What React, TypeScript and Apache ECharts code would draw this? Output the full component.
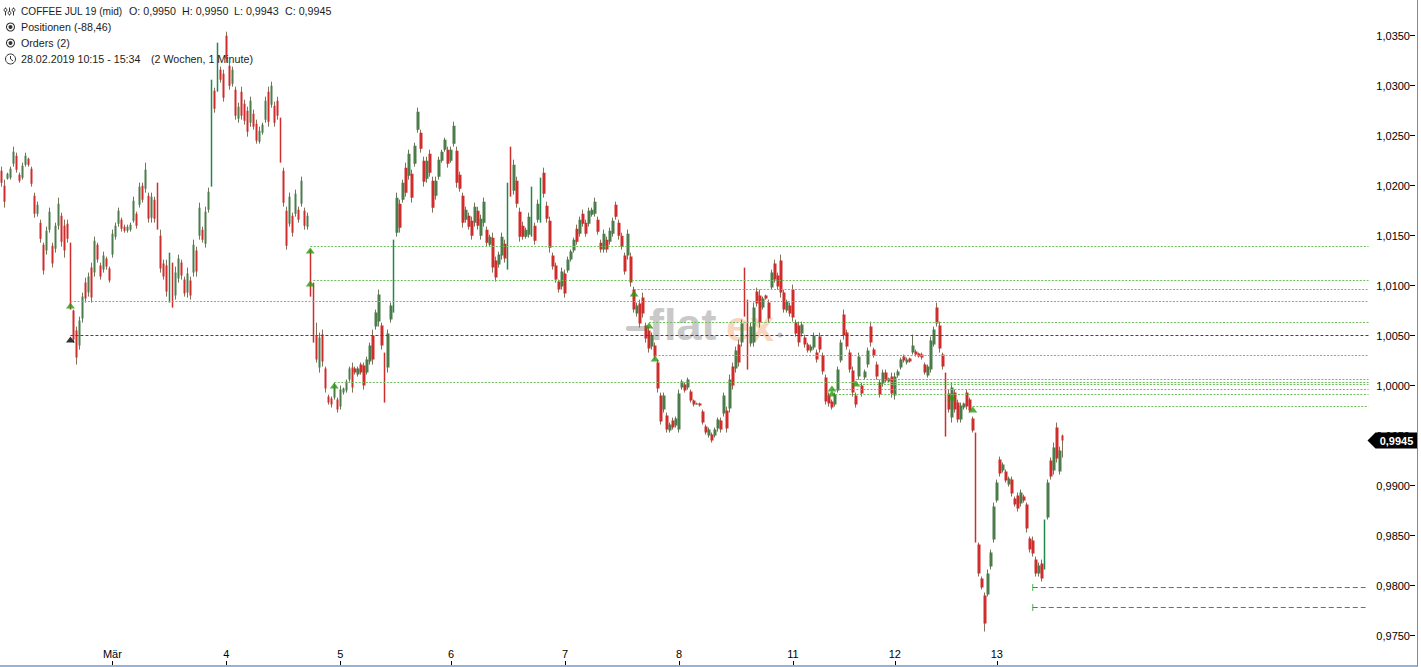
import { useEffect, useRef } from 'react';
import * as echarts from 'echarts';

// prices are kept in 1/10000, each candle is [open, close, low, high]
const PIPS = 10000;

const candlesFeb28 = [
    [10215,10203,10199,10219],[10200,10184,10178,10206],[10207,10212,10206,10213],[10208,10217,10206,10219],
    [10222,10234,10219,10239],[10230,10216,10213,10233],[10211,10205,10203,10213],[10208,10220,10206,10223],
    [10221,10230,10219,10233],[10227,10221,10219,10228],[10217,10202,10199,10219],[10190,10172,10168,10193],
    [10172,10181,10169,10184],[10163,10147,10143,10166],[10141,10115,10111,10143],[10135,10155,10131,10159],
    [10156,10174,10153,10178],[10140,10122,10118,10143],[10137,10160,10133,10163],[10160,10182,10156,10188],
    [10170,10144,10139,10173],[10160,10135,10128,10166],[10162,10147,10143,10166],[10135,10079,10076,10143],
    [10075,10046,10043,10076],[10055,10028,10021,10059],[10040,10065,10036,10069],[10067,10089,10063,10093],
    [10103,10087,10083,10108],[10093,10109,10089,10113],[10118,10088,10083,10123],[10113,10145,10109,10149],
    [10141,10126,10123,10143],[10120,10109,10106,10123],[10116,10130,10113,10134],[10127,10119,10116,10129],
    [10117,10105,10103,10119],
];
const candlesMar1 = [
    [10131,10152,10128,10156],[10149,10160,10146,10163],[10162,10175,10159,10178],[10166,10157,10154,10168],
    [10159,10155,10153,10161],[10155,10159,10153,10161],[10156,10161,10154,10163],[10165,10185,10163,10189],
    [10172,10160,10157,10174],[10181,10199,10178,10203],[10200,10186,10183,10203],[10197,10216,10193,10223],
    [10190,10167,10163,10193],[10168,10189,10163,10193],[10186,10167,10163,10189],[10198,10161,10156,10203],
    [10150,10117,10113,10156],[10122,10109,10106,10126],[10120,10094,10089,10126],[10098,10125,10083,10133],
    [10118,10084,10078,10123],[10090,10113,10086,10119],[10107,10127,10103,10131],[10123,10110,10106,10126],
    [10106,10092,10089,10109],[10093,10112,10088,10118],[10105,10090,10086,10109],[10113,10141,10109,10146],
    [10135,10114,10109,10139],[10150,10178,10146,10183],[10156,10146,10143,10159],[10142,10174,10138,10179],
    [10176,10194,10173,10198],[10200,10304,10199,10306],[10295,10277,10273,10298],[10297,10338,10294,10343],
    [10316,10306,10303,10319],[10312,10288,10284,10316],
];
const candlesMar4 = [
    [10350,10327,10323,10354],[10320,10300,10296,10323],[10302,10316,10299,10319],[10296,10270,10266,10299],
    [10267,10279,10263,10283],[10294,10270,10266,10299],[10282,10265,10261,10286],[10275,10254,10249,10279],
    [10263,10285,10259,10289],[10272,10259,10256,10276],[10262,10245,10242,10266],[10244,10255,10242,10259],
    [10253,10261,10251,10263],[10266,10285,10263,10289],[10294,10264,10259,10299],[10281,10300,10278,10304],
    [10280,10263,10259,10284],[10285,10270,10266,10289],[10266,10226,10223,10268],[10215,10183,10179,10218],
    [10175,10140,10136,10179],[10162,10189,10159,10193],[10170,10153,10149,10173],[10172,10192,10169,10196],
    [10176,10166,10163,10179],[10182,10205,10179,10209],[10175,10160,10156,10178],[10159,10170,10156,10173],
    [10134,10093,10089,10136],[10100,10050,10043,10103],[10050,10026,10023,10063],[10018,10048,10013,10053],
    [10051,10024,10019,10056],[10017,9997,9993,10019],[9989,9983,9981,9991],[9987,9981,9978,9989],
    [9988,10000,9986,10003],[9986,9976,9973,9988],
];
const candlesMar5 = [
    [9979,9996,9976,10000],[9993,9997,9991,9998],[9995,10004,9993,10006],[10006,10017,10004,10019],
    [10018,9998,9993,10023],[10017,10013,10011,10019],[10011,10017,10009,10019],[10021,10013,10011,10023],
    [10020,10000,9996,10023],[10013,10026,10011,10029],[10024,10040,10021,10043],[10050,10026,10021,10056],
    [10059,10073,10056,10076],[10064,10091,10059,10096],[10060,10040,10036,10063],[10030,9990,9983,10033],
    [10018,10052,10013,10056],[10066,10080,10063,10083],[10074,10144,10073,10146],[10153,10188,10149,10193],
    [10182,10158,10153,10186],[10186,10203,10183,10206],[10218,10193,10189,10223],[10210,10232,10206,10236],
    [10212,10188,10183,10216],[10222,10240,10219,10243],[10256,10274,10253,10278],[10253,10237,10233,10256],
    [10225,10204,10199,10229],[10207,10225,10203,10229],[10232,10213,10209,10236],[10205,10178,10173,10209],
    [10190,10205,10186,10209],[10209,10226,10206,10229],[10225,10234,10223,10236],[10236,10246,10234,10248],
    [10236,10222,10218,10239],
];
const candlesMar6 = [
    [10225,10236,10223,10239],[10242,10260,10239,10264],[10235,10203,10198,10239],[10211,10197,10194,10214],
    [10190,10163,10158,10193],[10166,10176,10163,10179],[10170,10159,10156,10173],[10165,10150,10146,10169],
    [10163,10179,10159,10183],[10175,10160,10156,10179],[10150,10167,10146,10171],[10163,10184,10159,10188],
    [10156,10143,10139,10159],[10141,10149,10139,10151],[10148,10118,10113,10153],[10125,10108,10104,10129],
    [10121,10131,10118,10134],[10130,10149,10126,10153],[10142,10127,10123,10146],[10120,10198,10116,10203],
    [10234,10194,10189,10239],[10195,10221,10191,10226],[10205,10182,10178,10209],[10174,10149,10144,10178],
    [10160,10149,10146,10164],[10149,10156,10147,10158],[10151,10169,10148,10173],[10154,10193,10149,10199],
    [10160,10145,10141,10163],[10166,10182,10163,10186],[10168,10203,10163,10208],[10213,10192,10188,10218],
    [10180,10167,10163,10184],[10165,10138,10133,10169],[10130,10119,10116,10133],[10120,10106,10103,10123],
    [10104,10096,10093,10106],[10099,10114,10096,10118],
];
const candlesMar7 = [
    [10112,10092,10088,10116],[10115,10126,10113,10129],[10126,10134,10124,10136],[10135,10146,10133,10148],
    [10157,10144,10141,10161],[10152,10166,10149,10169],[10172,10162,10159,10176],[10163,10152,10149,10166],
    [10162,10175,10159,10178],[10171,10176,10169,10178],[10172,10184,10169,10188],[10166,10154,10151,10169],
    [10143,10136,10133,10146],[10136,10152,10133,10156],[10146,10136,10133,10149],[10144,10155,10141,10158],
    [10152,10165,10149,10168],[10181,10169,10166,10184],[10163,10150,10146,10166],[10150,10139,10136,10153],
    [10130,10114,10111,10133],[10130,10152,10126,10156],[10129,10103,10099,10133],[10096,10076,10073,10099],
    [10072,10080,10069,10083],[10082,10062,10058,10086],[10088,10072,10068,10093],[10060,10047,10043,10063],
    [10055,10037,10033,10059],[10039,10050,10036,10053],[10040,10029,10026,10043],[10023,9997,9993,10026],
    [9990,9964,9961,9993],[9976,9990,9973,9993],[9970,9956,9953,9973],[9955,9961,9953,9963],
    [9965,9958,9956,9968],[9960,9967,9958,9969],
];
const candlesMar8 = [
    [9956,9992,9953,9996],[9998,10004,9996,10006],[10001,9995,9993,10003],[9998,10006,9996,10008],
    [9994,9985,9983,9996],[9985,9981,9979,9986],[9981,9982,9981,9983],[9982,9980,9979,9983],
    [9974,9963,9961,9976],[9959,9953,9951,9961],[9950,9956,9948,9958],[9951,9945,9943,9953],
    [9950,9956,9948,9958],[9957,9966,9954,9968],[9965,9956,9953,9968],[9972,9990,9969,9993],
    [9975,9957,9953,9979],[9977,10006,9973,10011],[10019,10000,9996,10023],[10017,10035,10013,10039],
    [10041,10023,10019,10046],[10043,10062,10039,10066],[10112,10074,10069,10118],[10080,10030,10016,10086],
    [10042,10059,10039,10063],[10043,10078,10039,10083],[10094,10082,10079,10098],[10090,10063,10058,10096],
    [10078,10087,10076,10089],[10090,10087,10086,10091],[10083,10067,10063,10086],[10098,10113,10096,10116],
    [10122,10106,10103,10126],[10110,10099,10096,10113],[10125,10093,10088,10131],[10093,10076,10073,10096],
    [10075,10084,10073,10086],[10080,10072,10069,10083],
];
const candlesMar11 = [
    [10096,10068,10064,10101],[10063,10052,10049,10066],[10060,10043,10039,10064],[10052,10061,10049,10064],
    [10048,10041,10038,10051],[10041,10035,10033,10043],[10035,10039,10033,10041],[10038,10050,10036,10053],
    [10033,10026,10023,10036],[10049,10036,10033,10053],[10030,10014,10011,10033],[10008,9984,9981,10011],
    [9990,9982,9979,9993],[9984,9978,9976,9986],[9981,9991,9979,9993],[9995,10016,9993,10019],
    [10025,10043,10023,10046],[10071,10050,10046,10076],[10053,10039,10036,10056],[10033,10016,10013,10036],
    [10015,9993,9989,10019],[9990,9981,9978,9993],[10009,10029,10006,10033],[10000,9992,9989,10003],
    [10008,10014,10006,10016],[10021,10035,10018,10038],[10059,10043,10039,10064],[10036,10030,10028,10038],
    [10021,10009,10006,10024],[10003,9991,9988,10006],[10002,10013,9999,10016],[10013,10005,10003,10016],
    [10004,10007,10003,10008],[10009,9992,9988,10013],
];
const candlesMar12 = [
    [9990,10009,9986,10013],[10010,10014,10008,10016],[10018,10026,10016,10028],[10029,10025,10023,10031],
    [10023,10026,10021,10028],[10027,10024,10023,10028],[10033,10040,10031,10051],[10034,10031,10029,10036],
    [10032,10029,10028,10033],[10031,10028,10026,10033],[10021,10013,10011,10023],[10010,10019,10008,10021],
    [10016,10045,10013,10049],[10041,10056,10039,10059],[10078,10062,10059,10083],[10060,10037,10033,10064],
    [10031,10019,10016,10033],[10010,9955,9949,10013],[9992,9976,9973,9996],[9968,9998,9963,10003],
    [9993,9976,9973,9996],[9983,9966,9963,9986],[9966,9980,9963,9983],[9978,9982,9976,9983],
    [9993,9979,9976,9996],[9986,9975,9973,9988],[9967,9955,9953,9969],[9952,9845,9843,9953],
    [9841,9812,9809,9843],[9807,9798,9796,9809],[9790,9762,9754,9793],[9791,9812,9789,9816],
    [9819,9833,9816,9836],[9846,9879,9843,9883],
];
const candlesMar13 = [
    [9885,9903,9883,9906],[9926,9912,9909,9929],[9915,9921,9913,9923],[9914,9905,9903,9916],
    [9901,9907,9899,9909],[9906,9892,9889,9909],[9887,9881,9879,9889],[9890,9877,9874,9893],
    [9882,9893,9879,9896],[9889,9885,9883,9891],[9881,9857,9853,9883],[9847,9836,9833,9849],
    [9845,9832,9829,9849],[9826,9812,9809,9829],[9812,9820,9809,9823],[9822,9807,9804,9826],
    [9818,9863,9816,9866],[9868,9903,9866,9906],[9925,9909,9906,9928],[9915,9938,9911,9943],
    [9958,9927,9923,9963],[9914,9935,9911,9939],[9950,9945,9928,9951],
];

const dayCandles = [candlesFeb28, candlesMar1, candlesMar4, candlesMar5, candlesMar6, candlesMar7, candlesMar8, candlesMar11, candlesMar12, candlesMar13];
const dayLabels = ['', 'Mär', '4', '5', '6', '7', '8', '11', '12', '13'];

const priceTicks = [0.975, 0.98, 0.985, 0.99, 0.995, 1.0, 1.005, 1.01, 1.015, 1.02, 1.025, 1.03, 1.035];
const lastPrice = 0.9945;

// open orders: level and the candle where the line starts
const fillLevels = [10139, 10105, 10096, 10084, 10063, 10030, 10006, 10003, 10001, 9996, 9991, 9979];
const fillStarts = [103, 104, 211, 23, 216, 218, 285, 111, 285, 277, 277, 324];
const positionLevel = 10050;
const positionStart = 23;
const orderLevels = [9798, 9778];
const orderStart = 344;

const buyArrows = [[23, 10080], [103, 10135], [103, 10102], [111, 10000], [211, 10092], [216, 10060], [218, 10027], [277, 9997], [277, 9992], [285, 10002], [317, 9988], [324, 9976]];
const sellArrows = [[23, 10046]];

const SLOT_COUNT = 472;
const LINES_END = 456;
const ORDERS_END = 455;
const LONG_BAR = 45;

const UP = '#4a7d4a';
const UP_LONG = '#1d8a4e';
const DOWN = '#cf2c2c';
const ORDER_GREEN = '#22a022';

const flatCandles = dayCandles.flat();
const isLong = (c: number[]) => c[3] - c[2] >= LONG_BAR;
const toPrice = (c: number[]) => c.map(v => v / PIPS);
const longColor = (c: number[]) => (c[1] > c[0] ? UP_LONG : DOWN);

// fast moves show as a thin line, everything else as a small body with a wick
const wickData = flatCandles.map(c => isLong(c)
    ? { value: toPrice(c), itemStyle: { borderColor: longColor(c), borderColor0: longColor(c), borderWidth: 1.5 } }
    : { value: toPrice(c) });
const bodyData = flatCandles.map(c => isLong(c)
    ? { value: toPrice(c), itemStyle: { color: 'transparent', color0: 'transparent' } }
    : { value: toPrice(c) });

const categories: string[] = new Array(SLOT_COUNT).fill('');
let dayStart = 0;
dayCandles.forEach((day, i) => {
    if (dayLabels[i]) categories[dayStart] = dayLabels[i];
    dayStart += day.length;
});

const formatPrice = (v: number) => v.toFixed(4).replace('.', ',');
const hasLabel = (_: number, value: string) => value !== '';

const levelLine = (start: number, end: number, level: number, color: string, dash: number[]) => [
    { coord: [start, level / PIPS], lineStyle: { color, width: 1, type: dash, opacity: 1 } },
    { coord: [end, level / PIPS] }
];

const headerFont = '10.7px "Liberation Sans"';
const headerText = (text: string, x: number, y: number, font = headerFont) => ({
    type: 'text', x, y, z: 10,
    style: { text, font, fill: '#1c1c1c', verticalAlign: 'middle' }
});
const radioIcon = (cy: number) => ({
    type: 'group', z: 10,
    children: [
        { type: 'ring', z: 10, shape: { cx: 10.5, cy, r: 4.5, r0: 3.5 }, style: { fill: '#333' } },
        { type: 'circle', z: 10, shape: { cx: 10.5, cy, r: 2 }, style: { fill: '#333' } }
    ]
});
const sliderIcon = (x: number, knob: number) => ({
    type: 'group', z: 10,
    children: [
        { type: 'line', z: 10, shape: { x1: x, y1: 7.5, x2: x, y2: 15.5 }, style: { stroke: '#333', lineWidth: 1 } },
        { type: 'circle', z: 10, shape: { cx: x, cy: knob, r: 1.5 }, style: { fill: '#fff', stroke: '#333', lineWidth: 1 } }
    ]
});

export default function App() {
    const chartRef = useRef<HTMLDivElement>(null);

    useEffect(() => {
        if (!chartRef.current) return;
        const chart = echarts.init(chartRef.current, undefined, { renderer: 'svg' });

        const option = {
            animation: false,
            backgroundColor: '#fff',
            grid: { left: 0, right: 6, top: 0, bottom: 2 },
            xAxis: {
                type: 'category',
                data: categories,
                axisLine: { show: false },
                axisTick: { show: true, inside: true, length: 4, interval: hasLabel, alignWithLabel: true, lineStyle: { color: '#000' } },
                axisLabel: { inside: true, margin: 6, interval: hasLabel, color: '#000', fontSize: 11, fontFamily: 'Liberation Sans' },
                splitLine: { show: false }
            },
            yAxis: {
                type: 'value',
                position: 'right',
                min: 0.97205,
                max: 1.03857,
                axisLine: { show: false },
                axisTick: { show: true, inside: true, length: 5, customValues: priceTicks, lineStyle: { color: '#000' } },
                axisLabel: { inside: true, margin: 5, customValues: priceTicks, formatter: formatPrice, color: '#000', fontSize: 11, fontFamily: 'Liberation Sans' },
                splitLine: { show: false }
            },
            series: [
                {
                    name: 'wicks',
                    type: 'candlestick',
                    barWidth: 1,
                    z: 3,
                    itemStyle: { color: 'transparent', color0: 'transparent', borderColor: '#6f7558', borderColor0: '#85705a', borderWidth: 1 },
                    data: wickData
                },
                {
                    name: 'COFFEE JUL 19',
                    type: 'candlestick',
                    barWidth: 3,
                    z: 4,
                    itemStyle: { color: UP, color0: DOWN, borderColor: UP, borderColor0: DOWN, borderWidth: 0 },
                    data: bodyData
                },
                ...orderLevels.map(l => ({
                    name: 'Order',
                    type: 'line',
                    z: 2,
                    symbol: 'none',
                    silent: true,
                    lineStyle: { color: ORDER_GREEN, width: 1, type: [5, 3] },
                    data: [[orderStart, l / PIPS], [ORDERS_END, l / PIPS]]
                })),
                {
                    name: 'Orders',
                    type: 'scatter',
                    z: 2,
                    symbol: 'rect',
                    symbolSize: [1, 7],
                    itemStyle: { color: ORDER_GREEN },
                    data: orderLevels.map(l => [orderStart, l / PIPS]),
                    markLine: {
                        silent: true,
                        symbol: 'none',
                        label: { show: false },
                        data: [
                            ...fillLevels.map((l, i) => levelLine(fillStarts[i], LINES_END, l, '#6fbf5f', [2, 1.5])),
                            levelLine(positionStart, LINES_END, positionLevel, '#444', [3, 2])
                        ]
                    },
                    markPoint: {
                        silent: true,
                        symbol: 'path://M0 8L8 0H50V16H8Z',
                        symbolSize: [50, 16],
                        itemStyle: { color: '#000' },
                        label: {
                            show: true,
                            formatter: formatPrice(lastPrice),
                            color: '#fff',
                            fontSize: 11,
                            fontWeight: 'bold',
                            fontFamily: 'Liberation Sans',
                            offset: [4, 0]
                        },
                        data: [{ coord: [464, lastPrice] }]
                    }
                },
                {
                    name: 'Kauf',
                    type: 'scatter',
                    z: 5,
                    symbol: 'triangle',
                    symbolSize: [9, 6],
                    itemStyle: { color: '#2a9a10' },
                    data: buyArrows.map(a => [a[0], a[1] / PIPS])
                },
                {
                    name: 'Verkauf',
                    type: 'scatter',
                    z: 5,
                    symbol: 'triangle',
                    symbolSize: [9, 6],
                    itemStyle: { color: '#000' },
                    data: sellArrows.map(a => [a[0], a[1] / PIPS])
                }
            ],
            graphic: [
                // watermark
                { type: 'rect', z: 0, shape: { x: 626, y: 326, width: 22, height: 5, r: 2 }, style: { fill: '#c9c9c9' } },
                { type: 'text', x: 649, y: 347, z: 0, style: { text: 'flat', font: 'bold 45px "Liberation Sans"', fill: '#c9c9c9', verticalAlign: 'bottom' } },
                { type: 'text', x: 726, y: 347, z: 0, style: { text: 'ex', font: 'bold 43px "Liberation Sans"', fill: '#fbd6bf', verticalAlign: 'bottom' } },
                { type: 'circle', z: 0, shape: { cx: 780, cy: 335, r: 2.5 }, style: { fill: '#c9c9c9' } },
                // header
                sliderIcon(5.5, 10),
                sliderIcon(9.5, 13),
                sliderIcon(13.5, 10),
                radioIcon(27),
                radioIcon(43),
                { type: 'circle', z: 10, shape: { cx: 10.5, cy: 59, r: 5 }, style: { fill: 'none', stroke: '#333', lineWidth: 1 } },
                { type: 'polyline', z: 10, shape: { points: [[10.5, 56], [10.5, 59], [13, 61]] }, style: { fill: 'none', stroke: '#333', lineWidth: 1 } },
                headerText('COFFEE JUL 19 (mid)', 21, 11, '10.1px "Liberation Sans"'),
                headerText('O: 0,9950', 129, 11),
                headerText('H: 0,9950', 182, 11),
                headerText('L: 0,9943', 234, 11),
                headerText('C: 0,9945', 285, 11),
                headerText('Positionen (-88,46)', 21, 27),
                headerText('Orders (2)', 21, 43),
                headerText('28.02.2019 10:15 - 15:34', 21, 59),
                headerText('(2 Wochen, 1 Minute)', 151, 59),
                // frame
                { type: 'line', z: 10, shape: { x1: 0, y1: 666, x2: 1418, y2: 666 }, style: { stroke: '#2a64b0', lineWidth: 1 } },
                { type: 'line', z: 10, shape: { x1: 1417.5, y1: 0, x2: 1417.5, y2: 666 }, style: { stroke: '#6b8fb5', lineWidth: 1 } }
            ]
        };

        chart.setOption(option as echarts.EChartsOption);

        return () => chart.dispose();
    }, []);

    return <div ref={chartRef} style={{ position: 'absolute', left: 0, top: 0, width: 1421, height: 667 }} />;
}
